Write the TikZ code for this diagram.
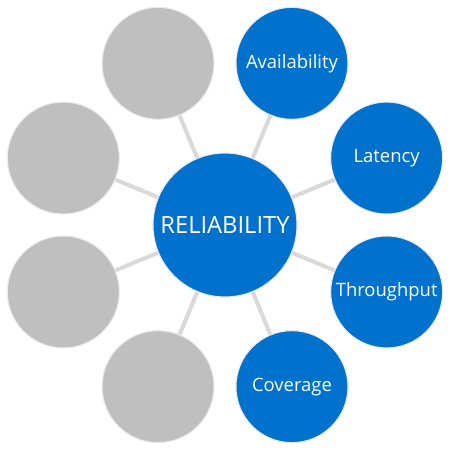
\documentclass[tikz,border=0pt]{standalone}
\usepackage{fontspec}
\setmainfont{Open Sans}
\usepackage{xcolor}
\definecolor{relblue}{RGB}{0,114,206}
\definecolor{relgray}{RGB}{191,191,191}
\definecolor{spokegray}{RGB}{217,217,217}
\tikzset{
hub/.style={circle,fill=relblue,draw=black!8,line width=0.6pt,minimum size=2.88cm,inner sep=0pt,text=white,font=\fontsize{13.5}{16}\selectfont},
leaf/.style={circle,fill=relblue,draw=black!8,line width=0.6pt,minimum size=2.24cm,inner sep=0pt,text=white,font=\fontsize{10.5}{12}\selectfont},
blank/.style={leaf,fill=relgray},
spoke/.style={spokegray,line width=2.3pt}
}

\begin{document}
\begin{tikzpicture}
\useasboundingbox (-4.5,-4.5) rectangle (4.5,4.5);
\node[hub] (rel) at (0,0) {RELIABILITY};
\node[leaf] (avail) at (67.5:3.5) {Availability};
\node[leaf] (lat) at (22.5:3.5) {Latency};
\node[leaf] (thru) at (-22.5:3.5) {Throughput};
\node[leaf] (cov) at (-67.5:3.5) {Coverage};
\foreach \a/\n in {112.5/g1,157.5/g2,202.5/g3,247.5/g4}{
\node[blank] (\n) at (\a:3.5) {};
}
\foreach \n in {avail,lat,thru,cov,g1,g2,g3,g4}{
\draw[spoke] (rel) -- (\n);
}
\end{tikzpicture}
\end{document}
